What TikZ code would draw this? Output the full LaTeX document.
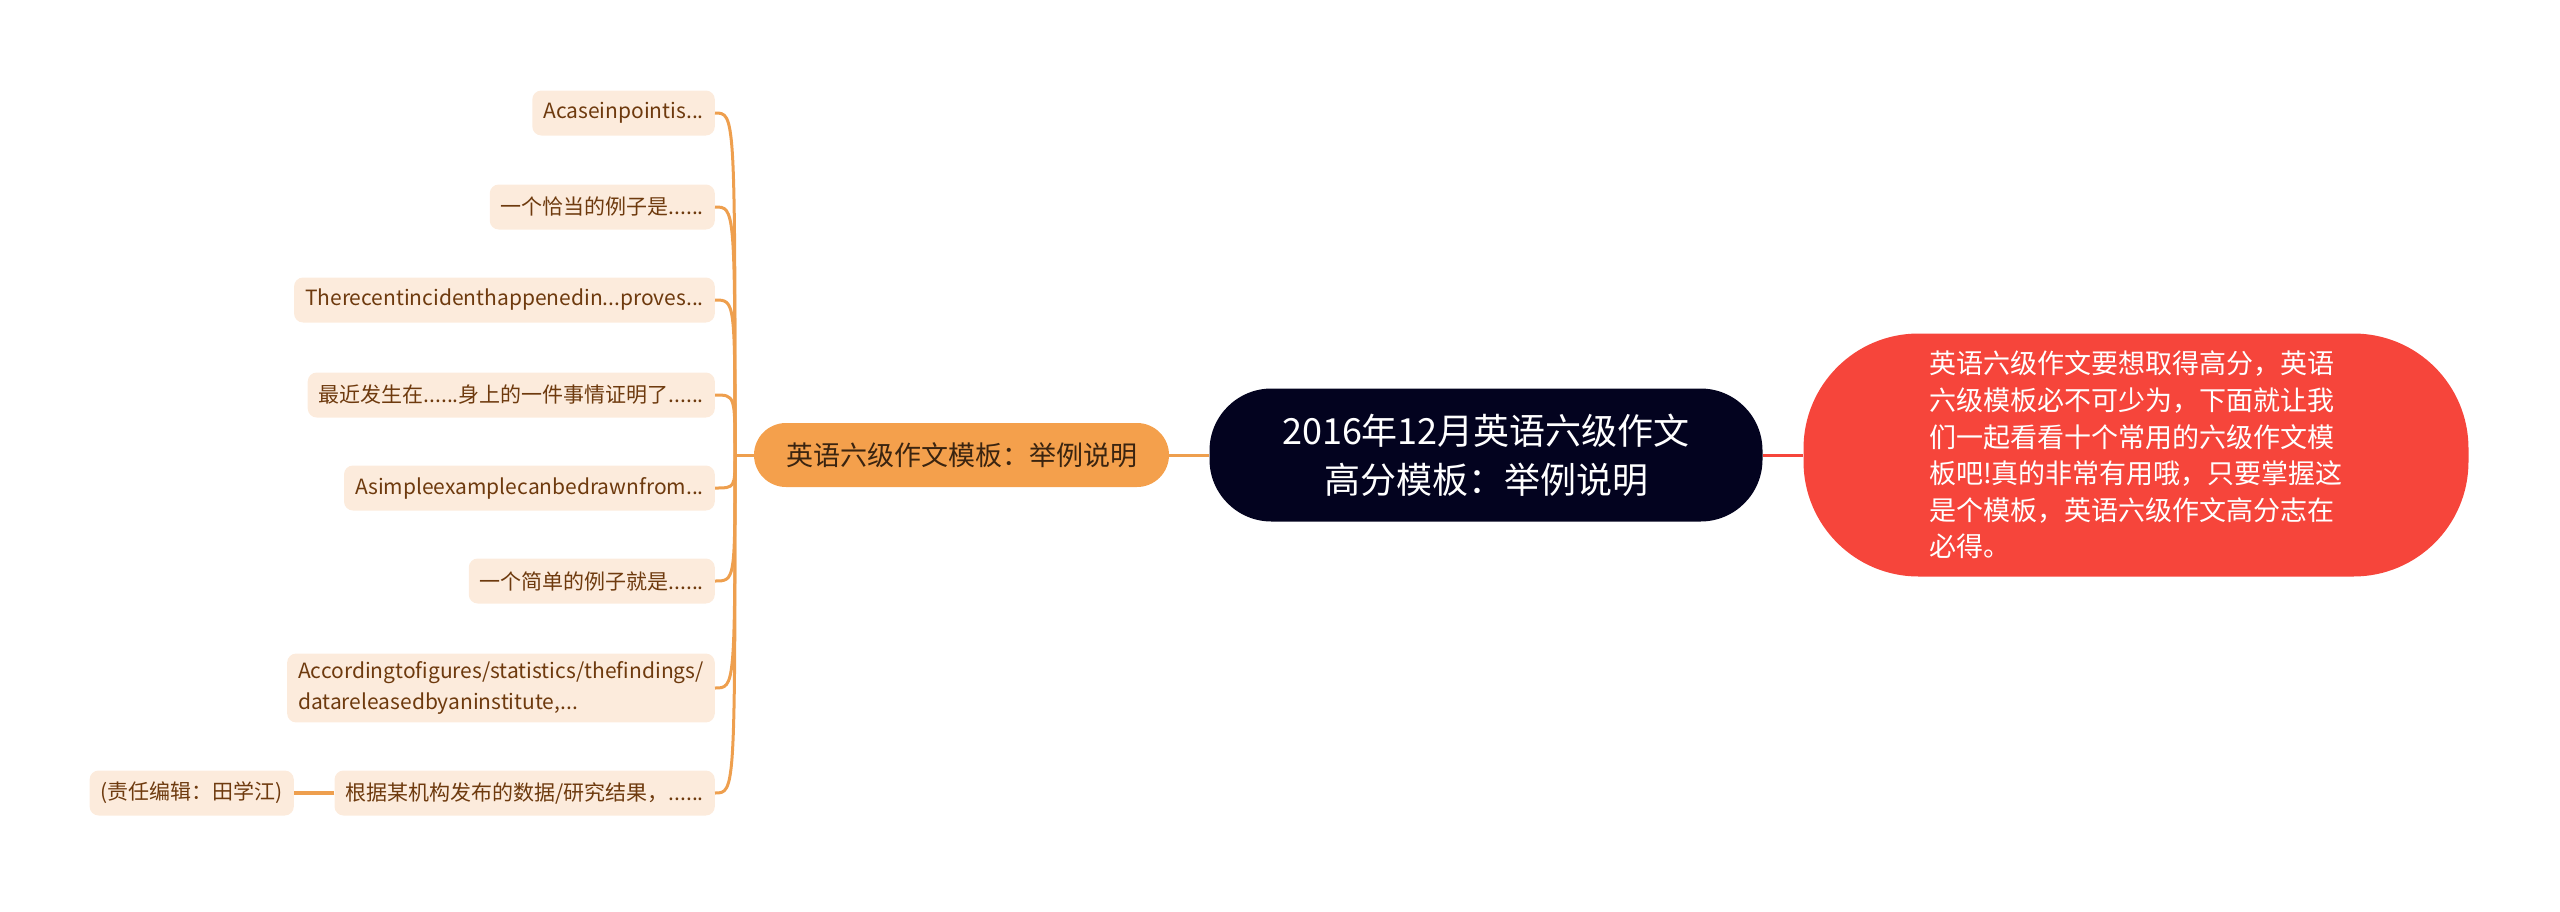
\documentclass[tikz,border=0pt]{standalone}
\usepackage{fontspec}
\setmainfont{Noto Sans CJK SC}
\definecolor{leaffill}{HTML}{FCEBDC}
\definecolor{leaftext}{HTML}{6E3A0E}
\definecolor{branch}{HTML}{EE9F4E}
\definecolor{orangefill}{HTML}{F4A04C}
\definecolor{orangetext}{HTML}{3A2410}
\definecolor{darkfill}{HTML}{03031F}
\definecolor{redfill}{HTML}{F6453B}
\tikzset{
  leaf/.style={fill=leaffill, rounded corners=9pt, text=leaftext,
    font=\fontsize{21pt}{31pt}\selectfont, inner xsep=11pt, inner ysep=8pt,
    minimum height=45pt, anchor=east, align=left},
  branchline/.style={draw=branch, line width=3pt},
  rootline/.style={line width=3pt},
}
\begin{document}
\begin{tikzpicture}[x=1pt,y=-1pt]
\useasboundingbox (0,0) rectangle (2560,911);
% central
\node[fill=darkfill, rounded corners=62pt, minimum width=553pt, minimum height=133pt,
  text=white, align=center, font=\fontsize{36pt}{49pt}\selectfont] (root) at (1486,455)
  {2016年12月英语六级作文\\高分模板：举例说明};
% red
\node[fill=redfill, rounded corners=115pt, minimum width=665pt, minimum height=243pt,
  text=white, align=left, font=\fontsize{27pt}{36.6pt}\selectfont] (red) at (2136,455)
  {英语六级作文要想取得高分，英语\\六级模板必不可少为，下面就让我\\们一起看看十个常用的六级作文模\\板吧!真的非常有用哦，只要掌握这\\是个模板，英语六级作文高分志在\\必得。};
% orange
\node[fill=orangefill, rounded corners=32pt, minimum width=415pt, minimum height=64pt,
  text=orangetext, font=\fontsize{27pt}{32pt}\selectfont] (org) at (961.5,455)
  {英语六级作文模板：举例说明};
\draw[rootline, draw=branch] (root.west) -- (org.east);
\draw[rootline, draw=redfill] (root.east) -- (red.west);
% leaves
\node[leaf] (l1) at (715,113) {Acaseinpointis...};
\node[leaf] (l2) at (715,207) {一个恰当的例子是......};
\node[leaf] (l3) at (715,300) {Therecentincidenthappenedin...proves...};
\node[leaf] (l4) at (715,395) {最近发生在......身上的一件事情证明了......};
\node[leaf] (l5) at (715,488) {Asimpleexamplecanbedrawnfrom...};
\node[leaf] (l6) at (715,581) {一个简单的例子就是......};
\node[leaf] (l7) at (715,688) {Accordingtofigures/statistics/thefindings/\\datareleasedbyaninstitute,...};
\node[leaf] (l8) at (715,793) {根据某机构发布的数据/研究结果，......};
\node[leaf] (l9) at (294,793) {(责任编辑：田学江)};
\coordinate (J) at (735,455);
\draw[branchline] (org.west) -- (J);
\foreach \n/\y in {l1/113,l2/207,l3/300,l4/395,l5/488,l6/581,l7/688,l8/793}{
  \draw[branchline] (J) .. controls (735,\y) and (735,\y) .. (\n.east);
}
\draw[branchline, line width=3.5pt] (l8.west) -- (l9.east);
\end{tikzpicture}
\end{document}
